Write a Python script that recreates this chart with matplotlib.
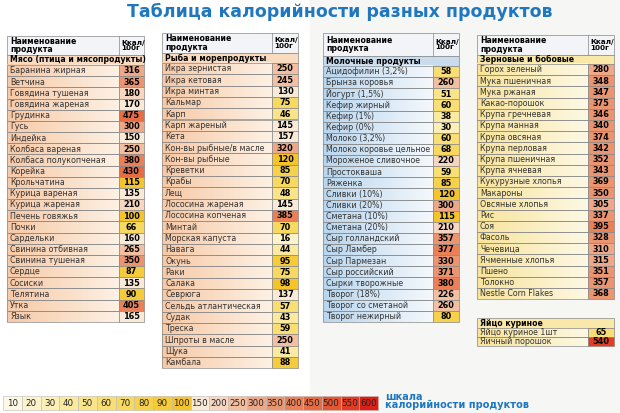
import matplotlib
matplotlib.use("Agg")
import matplotlib.pyplot as plt
from matplotlib.patches import Rectangle
from matplotlib.colors import LinearSegmentedColormap
import numpy as np

title = "Таблица калорийности разных продуктов"
header_name = "Наименование\nпродукта"
header_val = "Ккал/\n100г"

cat1 = "Мясо (птица и мясопродукты)"
names1 = ["Баранина жирная", "Ветчина", "Говядина тушеная", "Говядина жареная", "Грудинка", "Гусь",
          "Индейка", "Колбаса вареная", "Колбаса полукопченая", "Корейка", "Крольчатина", "Курица вареная",
          "Курица жареная", "Печень говяжья", "Почки", "Сардельки", "Свинина отбивная", "Свинина тушеная",
          "Сердце", "Сосиски", "Телятина", "Утка", "Язык"]
vals1 = [316, 365, 180, 170, 475, 300, 150, 250, 380, 430, 115, 135, 210, 100, 66, 160, 265, 350, 87, 135, 90, 405, 165]

cat2 = "Рыба и морепродукты"
names2 = ["Икра зернистая", "Икра кетовая", "Икра минтая", "Кальмар", "Карп", "Карп жареный", "Кета",
          "Кон-вы рыбные/в масле", "Кон-вы рыбные", "Креветки", "Крабы", "Лещ", "Лососина жареная",
          "Лососина копченая", "Минтай", "Морская капуста", "Навага", "Окунь", "Раки", "Салака", "Севрюга",
          "Сельдь атлантическая", "Судак", "Треска", "Шпроты в масле", "Щука", "Камбала"]
vals2 = [250, 245, 130, 75, 46, 145, 157, 320, 120, 85, 70, 48, 145, 385, 70, 16, 44, 95, 75, 98, 137, 57, 43, 59, 250, 41, 88]

cat3 = "Молочные продукты"
names3 = ["Ацидофилин (3,2%)", "Брынза коровья", "Йогурт (1,5%)", "Кефир жирный", "Кефир (1%)", "Кефир (0%)",
          "Молоко (3,2%)", "Молоко коровье цельное", "Мороженое сливочное", "Простокваша", "Ряженка",
          "Сливки (10%)", "Сливки (20%)", "Сметана (10%)", "Сметана (20%)", "Сыр голландский", "Сыр Ламбер",
          "Сыр Пармезан", "Сыр российский", "Сырки творожные", "Творог (18%)", "Творог со сметаной", "Творог нежирный"]
vals3 = [58, 260, 51, 60, 38, 30, 60, 68, 220, 59, 85, 120, 300, 115, 210, 357, 377, 330, 371, 380, 226, 260, 80]

cat4 = "Зерновые и бобовые"
names4 = ["Горох зеленый", "Мука пшеничная", "Мука ржаная", "Какао-порошок", "Крупа гречневая", "Крупа манная",
          "Крупа овсяная", "Крупа перловая", "Крупа пшеничная", "Крупа ячневая", "Кукурузные хлопья", "Макароны",
          "Овсяные хлопья", "Рис", "Соя", "Фасоль", "Чечевица", "Ячменные хлопья", "Пшено", "Толокно", "Nestle Corn Flakes"]
vals4 = [280, 348, 347, 375, 346, 340, 374, 342, 352, 343, 369, 350, 305, 337, 395, 328, 310, 315, 351, 357, 368]

cat5 = "Яйцо куриное"
names5 = ["Яйцо куриное 1шт", "Яичный порошок"]
vals5 = [65, 540]

scale_vals = [10, 20, 30, 40, 50, 60, 70, 80, 90, 100, 150, 200, 250, 300, 350, 400, 450, 500, 550, 600]
scale_label = "шкала\nкалорийности продуктов"

scale_cols = ["#fdf8e6", "#fcf3cc", "#fbefb8", "#faeaa0", "#f9e48a", "#f8de74", "#f7d860", "#f6d14c",
              "#f5cb3a", "#f4c42a", "#f9ead8", "#f6d6c0", "#f2c0a0", "#eea888", "#eb9470", "#e98058",
              "#e66c44", "#e45532", "#e23c22", "#dd2015"]

def vcolor(v):
    return scale_cols[int(np.argmin([abs(v - s) for s in scale_vals]))]

blue = "#1f77c0"
fig = plt.figure(figsize=(6.2, 4.13), dpi=100)
ax = fig.add_axes([0, 0, 1, 1])
ax.set_xlim(0, 620); ax.set_ylim(413, 0); ax.axis("off")
ax.add_patch(Rectangle((310, 0), 310, 413, color="#f6f6f4", zorder=0))

ax.text(340, 12, title, color=blue, fontsize=12.5, fontweight="bold", ha="center", va="center")

def table(x0, x1, xv, ytop, hh, cath, rowh, cat, names, vals, rowc0, rowc1, catc, header=True):
    y = ytop
    lw = 0.5; ec = "#888888"
    if header:
        ax.add_patch(Rectangle((x0, y), x1 - x0, hh, fc="#f2f4f8", ec=ec, lw=lw))
        ax.plot([xv, xv], [y, y + hh], color=ec, lw=lw)
        ax.text(x0 + 3, y + hh / 2, header_name, fontsize=5.6, fontweight="bold", va="center", linespacing=0.95)
        ax.text(xv + 2, y + hh / 2, header_val, fontsize=5.2, fontweight="bold", va="center", linespacing=0.95)
        y += hh
    ax.add_patch(Rectangle((x0, y), x1 - x0, cath, fc=catc, ec=ec, lw=lw))
    ax.text(x0 + 3, y + cath / 2, cat, fontsize=5.6, fontweight="bold", va="center")
    y += cath
    cm = LinearSegmentedColormap.from_list("g", [rowc0, rowc1])
    grad = np.linspace(0, 1, 50).reshape(1, -1)
    for n, v in zip(names, vals):
        ax.imshow(grad, cmap=cm, extent=(x0, xv, y + rowh, y), aspect="auto", zorder=1)
        ax.add_patch(Rectangle((x0, y), xv - x0, rowh, fill=False, ec=ec, lw=lw, zorder=2))
        ax.add_patch(Rectangle((xv, y), x1 - xv, rowh, fc=vcolor(v), ec=ec, lw=lw, zorder=2))
        ax.text(x0 + 3, y + rowh / 2 + 0.3, n, fontsize=5.7, va="center", color="#333333", zorder=3)
        ax.text((xv + x1) / 2, y + rowh / 2 + 0.3, str(v), fontsize=5.9, fontweight="bold", ha="center", va="center", zorder=3)
        y += rowh

table(7, 144, 119, 36, 19, 10, 11.17, cat1, names1, vals1, "#f7c9a6", "#fdf1e4", "#f9dcc0")
table(162, 298, 272, 33, 20, 10, 11.3, cat2, names2, vals2, "#f7c9a6", "#fdf1e4", "#f9dcc0")
table(323, 459, 433, 33, 23, 10, 11.13, cat3, names3, vals3, "#b9d6ee", "#f4f8fc", "#c8dcee")
table(477, 614, 588, 35, 20, 9, 11.2, cat4, names4, vals4, "#f8e49a", "#fdf8e4", "#f9e8a8")
table(477, 614, 588, 318, 0, 10, 9.0, cat5, names5, vals5, "#f8e49a", "#fdf8e4", "#f9e8a8", header=False)

sx0, sx1, sy, sh = 3, 378, 396, 14
w = (sx1 - sx0) / len(scale_vals)
for i, (s, c) in enumerate(zip(scale_vals, scale_cols)):
    ax.add_patch(Rectangle((sx0 + i * w, sy), w, sh, fc=c, ec="#bbbbbb", lw=0.4))
    ax.text(sx0 + (i + 0.5) * w, sy + sh / 2, str(s), fontsize=6.3, ha="center", va="center", color="#222222")
ax.text(385, sy + 5, scale_label, fontsize=7, fontweight="bold", color=blue, va="center", linespacing=0.85)

fig.savefig("out.png", dpi=100)
